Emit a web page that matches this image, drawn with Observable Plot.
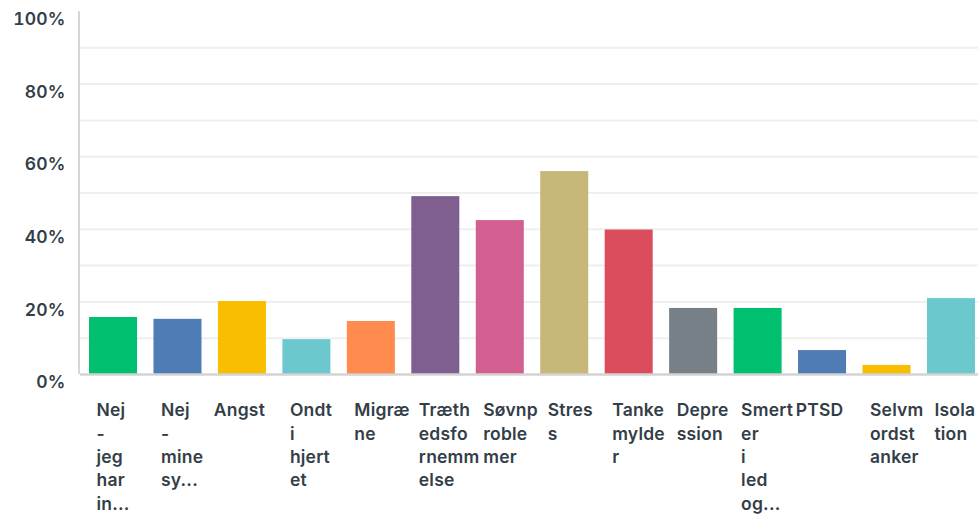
<!DOCTYPE html>
<html>
<head>
<meta charset="utf-8">
<script src="https://cdn.jsdelivr.net/npm/d3@7"></script>
<script src="https://cdn.jsdelivr.net/npm/@observablehq/plot@0.6"></script>
<style>
  html, body { margin: 0; padding: 0; background: #fff; overflow: hidden; }
  #chart svg { overflow: hidden; }
</style>
</head>
<body>
<div id="chart"></div>
<script>
const categories = ["Nej - jeg har in…", "Nej - mine sy…", "Angst", "Ondt i hjertet", "Migræne", "Træthedsfornemmelse", "Søvnproblemer", "Stress", "Tankemylder", "Depression", "Smerter i led og…", "PTSD", "Selvmordstanker", "Isolation"];
const tickLabels = ["Nej\n-\njeg\nhar\nin...", "Nej\n-\nmine\nsy...", "Angst", "Ondt\ni\nhjert\net", "Migræ\nne", "Træth\nedsfo\nrnemm\nelse", "Søvnp\nroble\nmer", "Stres\ns", "Tanke\nmylde\nr", "Depre\nssion", "Smert\ner\ni\nled\nog...", "PTSD", "Selvm\nordst\nanker", "Isola\ntion"];
const values = [15.7, 15.2, 20.1, 9.6, 14.6, 49.0, 42.4, 55.9, 39.8, 18.2, 18.2, 6.6, 2.5, 20.9];
const colors = ["#00bf6f", "#507cb6", "#f9be00", "#6bc8cd", "#ff8b4f", "#7f5f90", "#d25f90", "#c7b879", "#db4d5c", "#768086", "#00bf6f", "#507cb6", "#f9be00", "#6bc8cd"];
const yTicks = [0, 20, 40, 60, 80, 100];
const gridTicks = [10, 20, 30, 40, 50, 60, 70, 80, 90];

const data = categories.map((c, i) => ({category: c, value: values[i]}));
const labelOf = d => tickLabels[categories.indexOf(d)];
const wrapped = categories.filter(c => labelOf(c).includes("\n"));
const single = categories.filter(c => !labelOf(c).includes("\n"));

const axisLine = (index, scales, values, dimensions) => {
  const g = d3.create("svg:line")
    .attr("x1", dimensions.marginLeft - 1)
    .attr("x2", dimensions.marginLeft - 1)
    .attr("y1", scales.y(100))
    .attr("y2", scales.y(0))
    .attr("stroke", "#d6d6d6")
    .attr("stroke-width", 2);
  return g.node();
};

const chart = Plot.plot({
  width: 978,
  height: 516,
  marginTop: 11,
  marginBottom: 142,
  marginLeft: 80,
  marginRight: 0,
  style: {fontFamily: "Inter, 'Open Sans', sans-serif", fontSize: "17.5px", fontWeight: 600, color: "#333e48", background: "#fff", letterSpacing: "0.2px"},
  x: {domain: categories, range: [80, 984], paddingInner: 0.255, paddingOuter: 0.14, round: false, axis: null, label: null},
  y: {domain: [0, 100], axis: null, label: null},
  color: {domain: categories, range: colors},
  marks: [
    Plot.ruleY(gridTicks, {stroke: "#efefef", strokeWidth: 2}),
    Plot.barY(data, {x: "category", y: "value", fill: "category"}),
    Plot.ruleY([0], {stroke: "#d3d3d3", strokeWidth: 2.5}),
    axisLine,
    Plot.axisY(yTicks, {tickSize: 0, tickPadding: 15, dy: 8, label: null, tickFormat: d => d + "%", fill: "#333e48"}),
    Plot.axisX(wrapped, {tickSize: 0, tickPadding: 25, textAnchor: "start", dx: -17, lineAnchor: "top", lineHeight: 1.34, label: null, tickFormat: labelOf, fill: "#333e48"}),
    Plot.axisX(single, {tickSize: 0, tickPadding: 25, textAnchor: "middle", dx: -3, lineAnchor: "top", lineHeight: 1.34, label: null, tickFormat: labelOf, fill: "#333e48"})
  ]
});
document.getElementById("chart").appendChild(chart);
</script>
</body>
</html>
